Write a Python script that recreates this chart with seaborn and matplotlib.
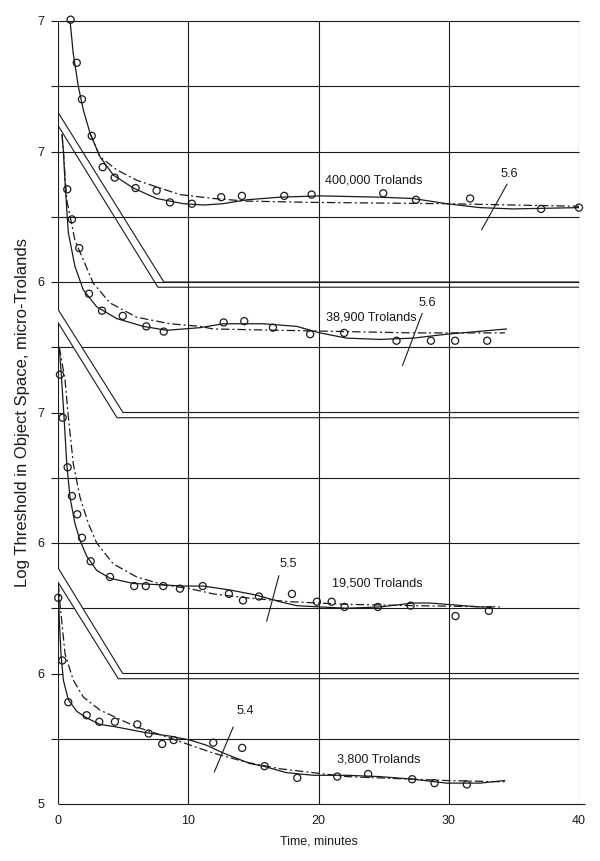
import matplotlib
matplotlib.use("Agg")
import matplotlib.pyplot as plt
import seaborn as sns
import numpy as np
import pandas as pd

# ---- data (log threshold, each curve in its own units) ----
panels = ["400,000", "38,900", "19,500", "3,800"]
offsets = [4, 3, 1, 0]          # vertical shift of each curve on the shared axis
asymptotes = ["5.6", "5.6", "5.5", "5.4"]

# observed points
t_400k = [0.97, 1.44, 1.84, 2.59, 3.43, 4.35, 5.96, 7.57, 8.60, 10.28, 12.53, 14.12, 17.37, 19.47, 24.97, 27.48, 31.64, 37.09, 40.0]
v_400k = [7.01, 6.68, 6.40, 6.12, 5.88, 5.80, 5.72, 5.70, 5.61, 5.60, 5.65, 5.66, 5.66, 5.67, 5.68, 5.63, 5.64, 5.56, 5.57]
t_38k = [0.71, 1.07, 1.63, 2.38, 3.38, 4.97, 6.78, 8.12, 12.72, 14.30, 16.50, 19.36, 21.97, 25.99, 28.63, 30.49, 32.95]
v_38k = [6.71, 6.48, 6.26, 5.91, 5.78, 5.74, 5.66, 5.62, 5.69, 5.70, 5.65, 5.60, 5.61, 5.55, 5.55, 5.55, 5.55]
t_19k = [0.15, 0.36, 0.74, 1.07, 1.48, 1.84, 2.51, 3.99, 5.85, 6.74, 8.08, 9.36, 11.11, 13.12, 14.20, 15.43, 17.96, 19.88, 21.01, 22.0, 24.56, 27.07, 30.52, 33.08]
v_19k = [7.29, 6.96, 6.58, 6.36, 6.22, 6.04, 5.86, 5.74, 5.67, 5.67, 5.67, 5.65, 5.67, 5.61, 5.56, 5.59, 5.61, 5.55, 5.55, 5.51, 5.51, 5.52, 5.44, 5.48]
t_3k8 = [0.02, 0.33, 0.79, 2.20, 3.17, 4.37, 6.09, 6.96, 8.00, 8.88, 11.92, 14.14, 15.86, 18.37, 21.44, 23.81, 27.19, 28.91, 31.39]
v_3k8 = [6.58, 6.10, 5.78, 5.68, 5.63, 5.63, 5.61, 5.54, 5.46, 5.49, 5.47, 5.43, 5.29, 5.20, 5.21, 5.23, 5.19, 5.16, 5.15]

# solid fitted curves
fit_t_400k = [0.90, 1.17, 1.56, 1.94, 2.46, 3.22, 4.24, 5.78, 7.57, 9.62, 11.2, 12.66, 14.50, 17.04, 20.11, 24.71, 27.24, 29.85, 32.39, 34.92, 40.0]
fit_v_400k = [7.03, 6.75, 6.50, 6.32, 6.14, 5.96, 5.82, 5.72, 5.64, 5.60, 5.59, 5.60, 5.63, 5.65, 5.66, 5.65, 5.64, 5.60, 5.57, 5.56, 5.57]
fit_t_38k = [0.31, 0.41, 0.54, 0.79, 1.30, 1.94, 2.97, 4.50, 6.55, 8.34, 10.90, 12.69, 15.76, 18.32, 20.11, 22.16, 24.71, 27.27, 29.83, 34.44]
fit_v_38k = [7.13, 7.01, 6.76, 6.38, 6.12, 5.94, 5.81, 5.72, 5.66, 5.63, 5.65, 5.68, 5.68, 5.66, 5.61, 5.57, 5.56, 5.57, 5.60, 5.64]
fit_t_19k = [0.10, 0.28, 0.46, 0.67, 0.92, 1.30, 1.69, 2.20, 2.97, 3.99, 5.78, 7.83, 9.62, 11.15, 13.20, 15.25, 17.04, 18.32, 20.11, 22.16, 24.71, 27.27, 28.55, 29.83, 32.39, 33.28]
fit_v_19k = [7.50, 7.25, 6.97, 6.61, 6.35, 6.15, 6.02, 5.90, 5.79, 5.73, 5.69, 5.68, 5.67, 5.67, 5.64, 5.60, 5.55, 5.52, 5.51, 5.50, 5.51, 5.54, 5.54, 5.53, 5.51, 5.51]
fit_t_3k8 = [0.02, 0.10, 0.23, 0.41, 0.79, 1.44, 2.20, 3.22, 4.50, 6.55, 8.60, 10.13, 11.41, 12.70, 14.74, 15.76, 17.55, 19.59, 22.16, 24.71, 27.27, 29.83, 32.39, 34.31]
fit_v_3k8 = [6.69, 6.41, 6.15, 5.95, 5.80, 5.71, 5.66, 5.61, 5.59, 5.55, 5.52, 5.49, 5.45, 5.39, 5.31, 5.29, 5.24, 5.22, 5.22, 5.21, 5.19, 5.16, 5.16, 5.18]

# dash-dot alternative curves
alt_t_400k = [2.46, 3.22, 4.50, 6.04, 7.83, 9.36, 11.90, 14.48, 19.57, 29.83, 40.0]
alt_v_400k = [6.14, 5.96, 5.86, 5.78, 5.72, 5.67, 5.64, 5.62, 5.61, 5.60, 5.58]
alt_t_38k = [0.31, 0.41, 0.67, 1.30, 1.94, 2.71, 3.99, 6.04, 8.60, 10.90, 11.92, 17.04, 22.16, 27.27, 34.31]
alt_v_38k = [7.13, 7.01, 6.63, 6.32, 6.17, 5.99, 5.84, 5.73, 5.68, 5.66, 5.64, 5.63, 5.62, 5.61, 5.61]
alt_t_19k = [0.10, 0.54, 0.79, 1.17, 1.69, 2.33, 2.97, 4.24, 6.04, 8.08, 10.13, 11.92, 14.48, 17.80, 22.16, 27.27, 33.92]
alt_v_19k = [7.50, 7.25, 6.97, 6.61, 6.35, 6.15, 6.00, 5.84, 5.74, 5.68, 5.65, 5.61, 5.58, 5.55, 5.53, 5.52, 5.51]
alt_t_3k8 = [0.02, 0.15, 0.54, 1.17, 1.94, 3.22, 4.50, 6.04, 7.57, 9.62, 11.92, 14.48, 17.04, 19.59, 22.16, 24.71, 29.83, 34.31]
alt_v_3k8 = [6.69, 6.54, 6.15, 5.95, 5.82, 5.72, 5.66, 5.59, 5.54, 5.47, 5.39, 5.32, 5.27, 5.24, 5.21, 5.20, 5.18, 5.17]

# double-line bleaching markers (shared plot units)
bleach_outer_start = [10.30, 8.79, 6.81]
bleach_outer_end_t = [8.13, 4.99, 4.97]
bleach_outer_end_y = [9.00, 8.00, 6.00]
bleach_inner_start = [10.20, 8.69, 6.70]
bleach_inner_end_t = [7.67, 4.53, 4.63]
bleach_inner_end_y = [8.96, 7.96, 5.96]

y_tick_pos = [5, 6, 7, 8, 9, 10, 11]
y_tick_labels = ["5", "6", "6", "7", "6", "7", "7"]
x_ticks = [0, 10, 20, 30, 40]

obs = [(t_400k, v_400k), (t_38k, v_38k), (t_19k, v_19k), (t_3k8, v_3k8)]
fits = [(fit_t_400k, fit_v_400k), (fit_t_38k, fit_v_38k), (fit_t_19k, fit_v_19k), (fit_t_3k8, fit_v_3k8)]
alts = [(alt_t_400k, alt_v_400k), (alt_t_38k, alt_v_38k), (alt_t_19k, alt_v_19k), (alt_t_3k8, alt_v_3k8)]

sns.set_theme(style="white")
plt.rcParams["font.family"] = ["Liberation Sans", "DejaVu Sans"]
plt.rcParams["lines.scale_dashes"] = False

INK = "#1a1a1a"
fig, ax = plt.subplots(figsize=(6, 8.61), dpi=100)
fig.subplots_adjust(left=58 / 600, right=579 / 600, bottom=1 - 804 / 861, top=1 - 21 / 861)

# frame and grid
for y in np.arange(5.5, 11.01, 0.5):
    if y in (6.0, 8.0):
        ax.hlines(y, -0.55, 0.35, color=INK, lw=0.8, clip_on=False, zorder=1)
    else:
        ax.hlines(y, -0.55, 40, color=INK, lw=0.8, clip_on=False, zorder=1)
ax.vlines(x_ticks, 5, 11, color=INK, lw=0.8, zorder=1)
ax.hlines(5, 0, 40.45, color=INK, lw=0.8, clip_on=False, zorder=1)

# bleaching markers
for i in range(3):
    ox = [0, bleach_outer_end_t[i], 40]
    oy = [bleach_outer_start[i], bleach_outer_end_y[i], bleach_outer_end_y[i]]
    ix = [0, bleach_inner_end_t[i], 40]
    iy = [bleach_inner_start[i], bleach_inner_end_y[i], bleach_inner_end_y[i]]
    if i > 0:
        ax.fill([0, ox[1], ix[1], 0], [oy[0], oy[1], iy[1], iy[0]], color="white", zorder=1.5, lw=0)
    ax.plot(ox, oy, color=INK, lw=0.8, zorder=2)
    ax.plot(ix, iy, color=INK, lw=0.8, zorder=2)

# curves and points
for name, off, (ot, ov), (ft, fv), (at, av) in zip(panels, offsets, obs, fits, alts):
    fit_df = pd.DataFrame({"t": ft, "v": np.array(fv) + off})
    alt_df = pd.DataFrame({"t": at, "v": np.array(av) + off})
    obs_df = pd.DataFrame({"t": ot, "v": np.array(ov) + off})
    sns.lineplot(data=fit_df, x="t", y="v", ax=ax, color=INK, lw=0.9,
                 estimator=None, sort=False, zorder=3)
    sns.lineplot(data=alt_df, x="t", y="v", ax=ax, color=INK, lw=0.9,
                 linestyle=(0, (6, 2.2, 1.4, 2.2)), estimator=None, sort=False, zorder=3)
    sns.scatterplot(data=obs_df, x="t", y="v", ax=ax, marker="o", s=26,
                    facecolor="none", edgecolor=INK, linewidth=0.9, zorder=4, clip_on=False)

# curve labels
label_pos = [(20.5, 9.78), (20.55, 8.73), (21.05, 6.69), (21.4, 5.34)]
for name, (x, y) in zip(panels, label_pos):
    ax.text(x, y, f"{name} Trolands", fontsize=9.1, ha="left", va="center", color=INK)

# asymptote slashes
slashes = [((32.52, 9.40), (34.48, 9.75)), ((26.45, 8.36), (27.96, 8.76)),
           ((16.02, 6.40), (16.96, 6.75)), ((12.0, 5.245), (13.45, 5.59))]
slash_text = [(34.64, 9.83), (28.37, 8.84), (17.67, 6.84), (14.35, 5.71)]
for val, (p0, p1), (tx, ty) in zip(asymptotes, slashes, slash_text):
    ax.plot([p0[0], p1[0]], [p0[1], p1[1]], color=INK, lw=0.8, zorder=3)
    ax.text(tx, ty, val, fontsize=9.1, ha="center", va="center", color=INK)

ax.set_xlim(0, 40)
ax.set_ylim(5, 11)
ax.set_xticks(x_ticks)
ax.set_yticks(y_tick_pos, y_tick_labels)
ax.tick_params(axis="x", length=0, pad=8, labelsize=9, colors=INK)
ax.tick_params(axis="y", length=0, pad=9.5, labelsize=9, colors=INK)
for s in ax.spines.values():
    s.set_visible(False)
ax.set_xlabel("Time, minutes", fontsize=9, color=INK, labelpad=6)
ax.set_ylabel("Log Threshold in Object Space, micro-Trolands", fontsize=12, color=INK)
ax.yaxis.set_label_coords(-0.053, 0.5)

fig.savefig("out.png", dpi=100, facecolor="white")
